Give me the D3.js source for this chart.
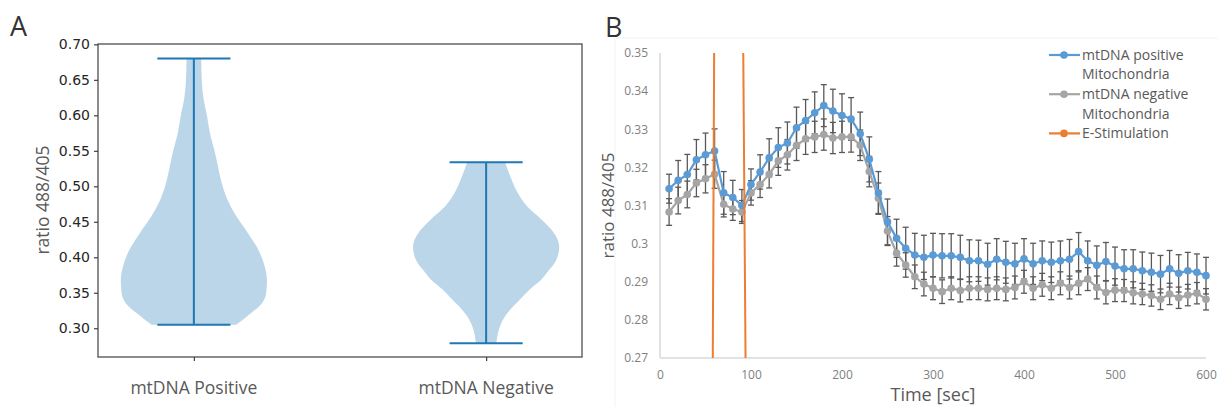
<!DOCTYPE html>
<html>
<head>
<meta charset="utf-8">
<script src="https://cdn.jsdelivr.net/npm/d3@7"></script>
<style>
  html, body { margin: 0; padding: 0; background: #fff; }
  svg { display: block; }
  .mpl { font-family: "DejaVu Sans", sans-serif; }
  .xl { font-family: "Open Sans", "Liberation Sans", sans-serif; }
</style>
</head>
<body>
<svg id="fig" width="1218" height="407"></svg>
<script>
// ---------- panel A data (violin profiles: [value, relative half-width]) ----------
const violinNames = ["mtDNA Positive", "mtDNA Negative"];
const violinPos = [1, 2];
const posMin = 0.305, posMax = 0.680;
const negMin = 0.279, negMax = 0.534;
const posProfile = [
  [0.305, 0.58], [0.321, 0.78], [0.335, 0.93], [0.350, 0.99], [0.368, 1.00],
  [0.387, 0.97], [0.411, 0.88], [0.434, 0.74], [0.458, 0.58], [0.481, 0.46],
  [0.505, 0.38], [0.528, 0.33], [0.547, 0.29], [0.575, 0.22], [0.599, 0.18],
  [0.625, 0.13], [0.646, 0.11], [0.680, 0.10]
];
const negProfile = [
  [0.279, 0.14], [0.300, 0.18], [0.312, 0.23], [0.325, 0.32], [0.340, 0.46],
  [0.355, 0.60], [0.368, 0.75], [0.378, 0.83], [0.396, 0.96], [0.415, 1.00],
  [0.434, 0.93], [0.453, 0.76], [0.472, 0.56], [0.491, 0.43], [0.514, 0.33],
  [0.534, 0.26]
];
const aTicks = [0.30, 0.35, 0.40, 0.45, 0.50, 0.55, 0.60, 0.65, 0.70];

// ---------- panel B data ----------
const times = d3.range(10, 601, 10);
const posMean = [
  0.3144, 0.3166, 0.3181, 0.3220, 0.3233, 0.3243, 0.3133, 0.3121, 0.3100, 0.3155,
  0.3188, 0.3225, 0.3252, 0.3264, 0.3304, 0.3323, 0.3343, 0.3362, 0.3348, 0.3336,
  0.3327, 0.3288, 0.3221, 0.3133, 0.3057, 0.3014, 0.2988, 0.2970, 0.2964, 0.2970,
  0.2968, 0.2968, 0.2964, 0.2955, 0.2955, 0.2946, 0.2959, 0.2951, 0.2947, 0.2960,
  0.2947, 0.2955, 0.2951, 0.2955, 0.2959, 0.2979, 0.2955, 0.2943, 0.2953, 0.2941,
  0.2934, 0.2934, 0.2929, 0.2925, 0.2920, 0.2934, 0.2922, 0.2929, 0.2925, 0.2916
];
const posErr = [
  0.0038, 0.0052, 0.0053, 0.0053, 0.0057, 0.0058, 0.0056, 0.0045, 0.0042, 0.0041,
  0.0045, 0.0050, 0.0052, 0.0055, 0.0054, 0.0055, 0.0055, 0.0055, 0.0057, 0.0057,
  0.0056, 0.0057, 0.0059, 0.0056, 0.0060, 0.0050, 0.0055, 0.0057, 0.0058, 0.0057,
  0.0058, 0.0058, 0.0058, 0.0055, 0.0054, 0.0055, 0.0054, 0.0055, 0.0054, 0.0053,
  0.0054, 0.0052, 0.0053, 0.0052, 0.0052, 0.0050, 0.0052, 0.0051, 0.0050, 0.0050,
  0.0050, 0.0050, 0.0049, 0.0050, 0.0049, 0.0048, 0.0049, 0.0048, 0.0048, 0.0048
];
const negMean = [
  0.3083, 0.3113, 0.3129, 0.3159, 0.3170, 0.3182, 0.3103, 0.3091, 0.3083, 0.3133,
  0.3155, 0.3182, 0.3217, 0.3233, 0.3258, 0.3275, 0.3280, 0.3286, 0.3277, 0.3280,
  0.3280, 0.3258, 0.3189, 0.3119, 0.3033, 0.2975, 0.2944, 0.2913, 0.2894, 0.2883,
  0.2874, 0.2883, 0.2877, 0.2883, 0.2883, 0.2880, 0.2883, 0.2880, 0.2885, 0.2900,
  0.2883, 0.2892, 0.2883, 0.2896, 0.2885, 0.2896, 0.2907, 0.2885, 0.2872, 0.2878,
  0.2877, 0.2871, 0.2868, 0.2864, 0.2854, 0.2868, 0.2858, 0.2865, 0.2870, 0.2854
];
const negErr = [
  0.0035, 0.0035, 0.0035, 0.0036, 0.0037, 0.0037, 0.0033, 0.0030, 0.0030, 0.0032,
  0.0034, 0.0036, 0.0038, 0.0040, 0.0040, 0.0041, 0.0041, 0.0041, 0.0041, 0.0041,
  0.0040, 0.0040, 0.0040, 0.0040, 0.0038, 0.0034, 0.0032, 0.0031, 0.0031, 0.0030,
  0.0031, 0.0030, 0.0030, 0.0030, 0.0030, 0.0030, 0.0030, 0.0030, 0.0030, 0.0030,
  0.0030, 0.0030, 0.0030, 0.0030, 0.0030, 0.0030, 0.0030, 0.0030, 0.0030, 0.0030,
  0.0029, 0.0029, 0.0028, 0.0028, 0.0027, 0.0028, 0.0028, 0.0028, 0.0028, 0.0028
];
const stim1 = [[58, 0.27], [59.5, 0.35]];
const stim2 = [[94, 0.27], [91.5, 0.35]];
const bYTicks = [0.27, 0.28, 0.29, 0.30, 0.31, 0.32, 0.33, 0.34, 0.35];
const bYLabels = ["0.27", "0.28", "0.29", "0.3", "0.31", "0.32", "0.33", "0.34", "0.35"];
const bXTicks = [0, 100, 200, 300, 400, 500, 600];
const legendItems = [
  {lines: ["mtDNA positive", "Mitochondria"], color: "#5B9BD5"},
  {lines: ["mtDNA negative", "Mitochondria"], color: "#A5A5A5"},
  {lines: ["E-Stimulation"], color: "#ED7D31"}
];

const svg = d3.select("#fig");

// ================= Panel A =================
const A = {l: 98, r: 582, t: 44, b: 357};
const xA = d3.scaleLinear().domain([0.672, 2.328]).range([A.l, A.r]);
const yA = d3.scaleLinear().domain([0.2595, 0.7005]).range([A.b, A.t]);
const wA = d3.scaleLinear().domain([0, 1]).range([0, 0.25]);

const gA = svg.append("g");

svg.append("text").attr("class", "xl").attr("x", 10).attr("y", 36)
  .attr("font-size", 27).attr("fill", "#333").text("A");

const violins = [
  {pos: violinPos[0], prof: posProfile, min: posMin, max: posMax},
  {pos: violinPos[1], prof: negProfile, min: negMin, max: negMax}
];

violins.forEach(v => {
  const area = d3.area()
    .curve(d3.curveMonotoneY)
    .y(d => yA(d[0]))
    .x0(d => xA(v.pos - wA(d[1])))
    .x1(d => xA(v.pos + wA(d[1])));
  gA.append("path").datum(v.prof).attr("d", area)
    .attr("fill", "#1f77b4").attr("fill-opacity", 0.3);
  const col = "#1f77b4";
  gA.append("line")
    .attr("x1", xA(v.pos)).attr("x2", xA(v.pos))
    .attr("y1", yA(v.min)).attr("y2", yA(v.max))
    .attr("stroke", col).attr("stroke-width", 2);
  [v.min, v.max].forEach(m => {
    gA.append("line")
      .attr("x1", xA(v.pos - 0.125)).attr("x2", xA(v.pos + 0.125))
      .attr("y1", yA(m)).attr("y2", yA(m))
      .attr("stroke", col).attr("stroke-width", 2);
  });
});

// frame
gA.append("rect").attr("x", A.l).attr("y", A.t)
  .attr("width", A.r - A.l).attr("height", A.b - A.t)
  .attr("fill", "none").attr("stroke", "#404040").attr("stroke-width", 1.2);

// y axis
const axA = gA.append("g").attr("transform", `translate(${A.l},0)`)
  .call(d3.axisLeft(yA).tickValues(aTicks).tickFormat(d3.format(".2f")).tickSize(4).tickPadding(4));
axA.select(".domain").remove();
axA.selectAll("line").attr("stroke", "#404040").attr("stroke-width", 1.2);
axA.selectAll("text").attr("class", "mpl").attr("font-size", 14).attr("fill", "#262626");

// x ticks
const axAx = gA.append("g").attr("transform", `translate(0,${A.b})`)
  .call(d3.axisBottom(xA).tickValues(violinPos).tickFormat("").tickSize(4));
axAx.select(".domain").remove();
axAx.selectAll("line").attr("stroke", "#404040").attr("stroke-width", 1.2);

violinNames.forEach((n, i) => {
  gA.append("text").attr("class", "xl")
    .attr("x", xA(violinPos[i])).attr("y", 394)
    .attr("text-anchor", "middle").attr("font-size", 17.5).attr("fill", "#595959")
    .text(n);
});

gA.append("text").attr("class", "xl")
  .attr("transform", `translate(49,200) rotate(-90)`)
  .attr("text-anchor", "middle").attr("font-size", 17.5).attr("fill", "#595959")
  .text("ratio 488/405");

// ================= Panel B =================
const B = {l: 660, r: 1206, t: 53, b: 358};
const xB = d3.scaleLinear().domain([0, 600]).range([B.l, B.r]);
const yB = d3.scaleLinear().domain([0.27, 0.35]).range([B.b, B.t]);
const gB = svg.append("g");

// faint chart-area border
gB.append("rect").attr("x", 615).attr("y", 38).attr("width", 620).attr("height", 380)
  .attr("fill", "none").attr("stroke", "#f4f4f4").attr("stroke-width", 1);

svg.append("text").attr("class", "xl").attr("x", 605).attr("y", 37)
  .attr("font-size", 27).attr("fill", "#333").text("B");

// axes lines
gB.append("line").attr("x1", B.l).attr("x2", B.l).attr("y1", B.t).attr("y2", B.b)
  .attr("stroke", "#d9d9d9").attr("stroke-width", 1.5);
gB.append("line").attr("x1", B.l).attr("x2", B.r).attr("y1", B.b).attr("y2", B.b)
  .attr("stroke", "#d9d9d9").attr("stroke-width", 1.5);

const axBy = gB.append("g").attr("transform", `translate(${B.l},0)`)
  .call(d3.axisLeft(yB).tickValues(bYTicks).tickFormat((d, i) => bYLabels[i]).tickSize(0).tickPadding(12));
axBy.select(".domain").remove();
axBy.selectAll("text").attr("class", "xl").attr("font-size", 12).attr("fill", "#808080");

const axBx = gB.append("g").attr("transform", `translate(0,${B.b})`)
  .call(d3.axisBottom(xB).tickValues(bXTicks).tickSize(0).tickPadding(12));
axBx.select(".domain").remove();
axBx.selectAll("text").attr("class", "xl").attr("font-size", 12).attr("fill", "#808080");

gB.append("text").attr("class", "xl")
  .attr("x", (B.l + B.r) / 2).attr("y", 401)
  .attr("text-anchor", "middle").attr("font-size", 18).attr("fill", "#595959")
  .text("Time [sec]");
gB.append("text").attr("class", "xl")
  .attr("transform", `translate(614,${(B.t + B.b) / 2}) rotate(-90)`)
  .attr("text-anchor", "middle").attr("font-size", 17).attr("fill", "#595959")
  .text("ratio 488/405");

const series = [
  {mean: negMean, err: negErr, color: "#A5A5A5"},
  {mean: posMean, err: posErr, color: "#5B9BD5"}
];

// error bars
series.forEach(s => {
  const eg = gB.append("g").attr("stroke", "#595959").attr("stroke-width", 1.3);
  times.forEach((t, i) => {
    const x = xB(t), y0 = yB(s.mean[i] - s.err[i]), y1 = yB(s.mean[i] + s.err[i]);
    eg.append("line").attr("x1", x).attr("x2", x).attr("y1", y0).attr("y2", y1);
    eg.append("line").attr("x1", x - 3).attr("x2", x + 3).attr("y1", y0).attr("y2", y0);
    eg.append("line").attr("x1", x - 3).attr("x2", x + 3).attr("y1", y1).attr("y2", y1);
  });
});

const lineB = d3.line().x(d => xB(d[0])).y(d => yB(d[1]));
series.forEach(s => {
  const pts = times.map((t, i) => [t, s.mean[i]]);
  gB.append("path").datum(pts).attr("d", lineB)
    .attr("fill", "none").attr("stroke", s.color).attr("stroke-width", 2.2);
  gB.append("g").selectAll("circle").data(pts).join("circle")
    .attr("cx", d => xB(d[0])).attr("cy", d => yB(d[1])).attr("r", 3.8)
    .attr("fill", s.color);
});

[stim1, stim2].forEach(st => {
  gB.append("path").datum(st).attr("d", lineB)
    .attr("fill", "none").attr("stroke", "#ED7D31").attr("stroke-width", 2);
});

// legend
const lg = gB.append("g");
let ly = 55;
legendItems.forEach(it => {
  lg.append("line").attr("x1", 1049).attr("x2", 1080).attr("y1", ly).attr("y2", ly)
    .attr("stroke", it.color).attr("stroke-width", 2.2);
  lg.append("circle").attr("cx", 1064).attr("cy", ly).attr("r", 3.8).attr("fill", it.color);
  it.lines.forEach((txt, j) => {
    lg.append("text").attr("class", "xl").attr("x", 1082).attr("y", ly + j * 19.5)
      .attr("dy", "0.35em").attr("font-size", 14).attr("fill", "#595959").text(txt);
  });
  ly += it.lines.length * 19.6;
});
</script>
</body>
</html>
